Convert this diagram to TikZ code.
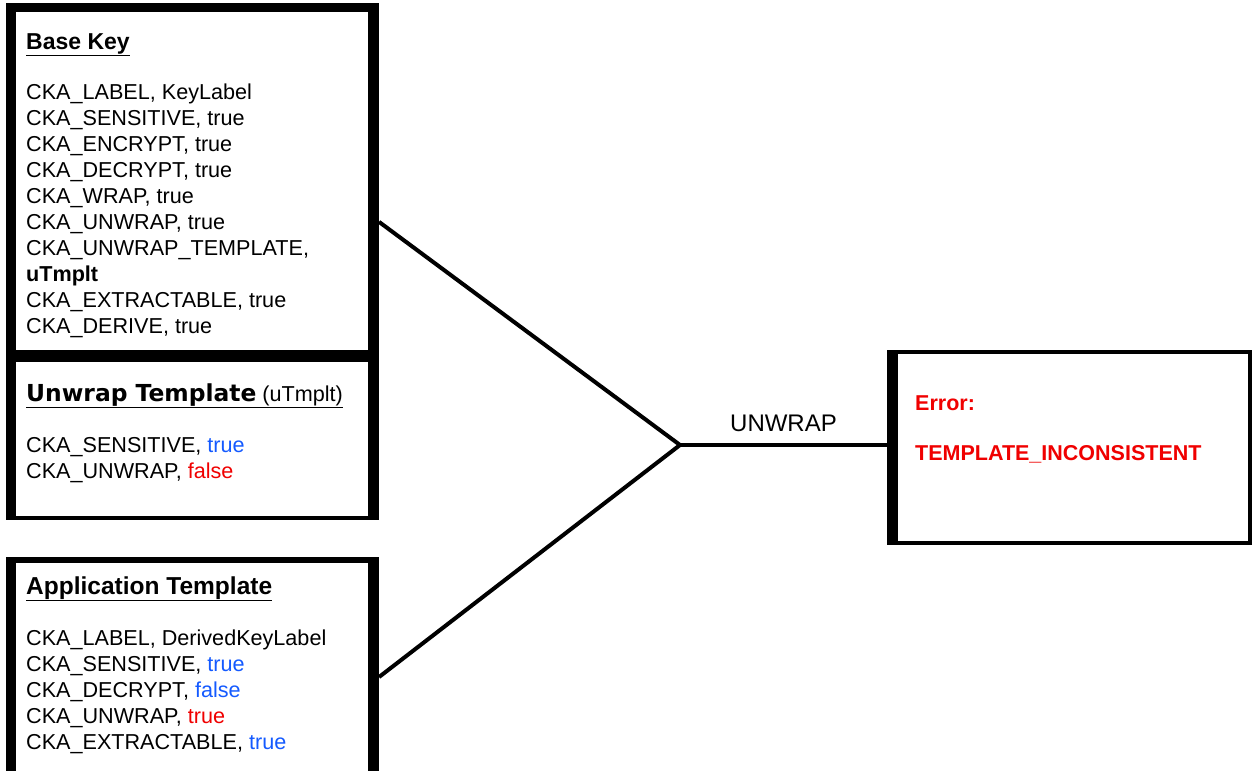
\documentclass[tikz,border=0pt]{standalone}
\usepackage{fontspec}
\setmainfont{Liberation Sans}
\newfontfamily\verd{DejaVu Sans}
\usetikzlibrary{calc}
\definecolor{tblue}{RGB}{20,90,255}
\definecolor{tred}{RGB}{240,0,0}
\begin{document}
\begin{tikzpicture}[x=1pt,y=-1pt,
  box/.style={draw=black, line width=4pt, fill=white, rectangle, outer sep=2pt, inner sep=0pt},
  bar/.style={fill=black},
  txt/.style={anchor=base west, inner sep=0pt, font=\fontsize{21.6}{26}\selectfont},
  ttl/.style={anchor=base west, inner sep=0pt, font=\fontsize{23}{26}\selectfont\bfseries},
  errtxt/.style={anchor=base west, inner sep=0pt, text=tred, font=\fontsize{21.5}{26}\selectfont\bfseries},
  conn/.style={line width=4pt}]
\useasboundingbox (0,0) rectangle (1253,771);
\clip (0,0) rectangle (1253,771);
\fill[white] (0,0) rectangle (1253,771);

% boxes
\node[box, minimum width=369pt, minimum height=349pt] (base) at (192.5,179.5) {};
\node[box, minimum width=369pt, minimum height=160pt] (unw) at (192.5,438) {};
\node[box, minimum width=369pt, minimum height=241pt] (app) at (192.5,679.5) {};
\node[box, minimum width=361pt, minimum height=191pt] (err) at (1069.5,447.5) {};

% thick edges
\fill[bar] (base.north west) rectangle ($(base.south west)+(10,0)$);
\fill[bar] ($(base.north east)+(-11,0)$) rectangle (base.south east);
\fill[bar] (base.north west) rectangle ($(base.north east)+(0,9)$);
\fill[bar] ($(base.south west)+(0,-6)$) rectangle (base.south east);
\fill[bar] (unw.north west) rectangle ($(unw.south west)+(10,0)$);
\fill[bar] ($(unw.north east)+(-11,0)$) rectangle (unw.south east);
\fill[bar] (unw.north west) rectangle ($(unw.north east)+(0,6)$);
\fill[bar] (app.north west) rectangle ($(app.south west)+(10,0)$);
\fill[bar] ($(app.north east)+(-11,0)$) rectangle (app.south east);
\fill[bar] (app.north west) rectangle ($(app.north east)+(0,6)$);
\fill[bar] (err.north west) rectangle ($(err.south west)+(11,0)$);

% connectors
\coordinate (j) at (680,445);
\draw[conn, line join=miter] ($(base.north east)!0.62!(base.south east)$) -- (j)
  -- ($(app.north east)!0.49!(app.south east)$);
\draw[conn] (j) -- (j -| err.west)
  node[midway, anchor=base, yshift=14pt, inner sep=0pt, font=\fontsize{24}{28}\selectfont] (lbl) {UNWRAP};

% Base Key text
\node[ttl] (bt) at (26,49) {\underline{Base Key}};
\node[txt] (b1) at (26,99) {CKA\_LABEL, KeyLabel};
\node[txt] (b2) at (26,125) {CKA\_SENSITIVE, true};
\node[txt] (b3) at (26,151) {CKA\_ENCRYPT, true};
\node[txt] (b4) at (26,177) {CKA\_DECRYPT, true};
\node[txt] (b5) at (26,203) {CKA\_WRAP, true};
\node[txt] (b6) at (26,229) {CKA\_UNWRAP, true};
\node[txt] (b7) at (26,255) {CKA\_UNWRAP\_TEMPLATE,};
\node[txt] (b8) at (26,281) {\textbf{uTmplt}};
\node[txt] (b9) at (26,307) {CKA\_EXTRACTABLE, true};
\node[txt] (b10) at (26,333) {CKA\_DERIVE, true};

% Unwrap template text
\node[txt] (ut) at (26,401) {\underline{{\verd\fontsize{23.4}{26}\selectfont\bfseries Unwrap Template} (uTmplt)}};
\node[txt] (u1) at (26,452) {CKA\_SENSITIVE, \textcolor{tblue}{true}};
\node[txt] (u2) at (26,478) {CKA\_UNWRAP, \textcolor{tred}{false}};

% Application template text
\node[ttl, font=\fontsize{24.5}{26}\selectfont\bfseries] (at) at (26,594) {\underline{Application Template}};
\node[txt] (a1) at (26,645) {CKA\_LABEL, DerivedKeyLabel};
\node[txt] (a2) at (26,671) {CKA\_SENSITIVE, \textcolor{tblue}{true}};
\node[txt] (a3) at (26,697) {CKA\_DECRYPT, \textcolor{tblue}{false}};
\node[txt] (a4) at (26,723) {CKA\_UNWRAP, \textcolor{tred}{true}};
\node[txt] (a5) at (26,749) {CKA\_EXTRACTABLE, \textcolor{tblue}{true}};

% Error text
\node[errtxt] (e1) at (915,410) {Error:};
\node[errtxt] (e2) at (915,460) {TEMPLATE\_INCONSISTENT};
\end{tikzpicture}
\end{document}
